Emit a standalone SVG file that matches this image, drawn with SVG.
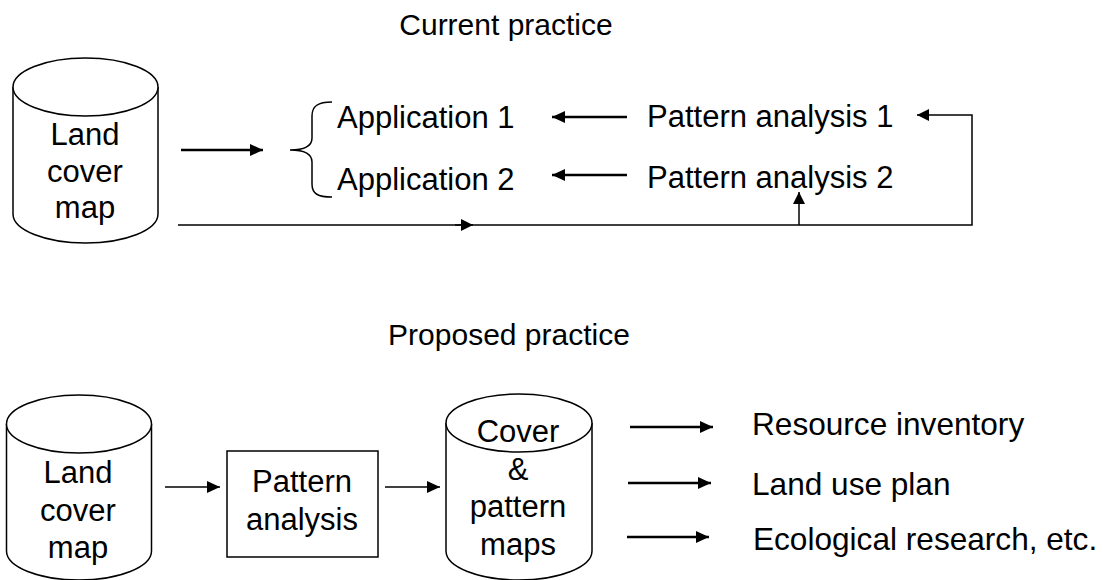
<svg xmlns="http://www.w3.org/2000/svg" width="1103" height="580" viewBox="0 0 1103 580">
<style>
text{font-family:"Liberation Sans",Arial,sans-serif;font-size:31px;fill:#000}
.mid{text-anchor:middle}
.big{font-size:31.6px}
.cyl{fill:#fff;stroke:#000;stroke-width:1.5}
.thick{stroke:#000;stroke-width:2.5;fill:none}
.thin{stroke:#000;stroke-width:1.5;fill:none}
</style>
<defs>
<marker id="ah" markerUnits="userSpaceOnUse" markerWidth="14" markerHeight="14" refX="13" refY="6" orient="auto">
<path d="M0,0 L13,6 L0,12 z" fill="#000"/>
</marker>
<marker id="ahs" markerUnits="userSpaceOnUse" markerWidth="14" markerHeight="14" refX="12" refY="6" orient="auto">
<path d="M0,0 L12,6 L0,12 z" fill="#000"/>
</marker>
</defs>
<text class="mid" x="506" y="35" style="font-size:30px">Current practice</text>
<text class="mid" x="509" y="345" style="font-size:30px">Proposed practice</text>
<g id="landcover1">
<path class="cyl" d="M13,87 L13,214 A72.5,29 0 0 0 158,214 L158,87"/>
<ellipse class="cyl" cx="85.5" cy="87" rx="72.5" ry="29"/>
<text class="mid" x="85" y="145">Land</text>
<text class="mid" x="85" y="182">cover</text>
<text class="mid" x="85" y="218">map</text>
</g>
<g id="applications">
<path class="thin" d="M332,102 C318,102 312,106 312,116 L312,138 C312,146 305,150 290,150 C305,150 312,154 312,162 L312,184 C312,194 318,197 332,197"/>
<text x="337" y="128">Application 1</text>
<text x="337" y="190">Application 2</text>
</g>
<g id="pattern1"><text x="647" y="127">Pattern analysis 1</text></g>
<g id="pattern2"><text x="647" y="188">Pattern analysis 2</text></g>
<g id="landcover2">
<path class="cyl" d="M6.5,424 L6.5,551 A72.5,29 0 0 0 151.5,551 L151.5,424"/>
<ellipse class="cyl" cx="79" cy="424" rx="72.5" ry="29"/>
<text class="mid" x="78" y="483">Land</text>
<text class="mid" x="78" y="521">cover</text>
<text class="mid" x="78" y="558">map</text>
</g>
<g id="patternbox">
<rect x="227" y="451" width="151" height="106" fill="#fff" stroke="#000" stroke-width="1.5"/>
<text class="mid" x="302" y="492">Pattern</text>
<text class="mid" x="302" y="530">analysis</text>
</g>
<g id="coverpattern">
<path class="cyl" d="M446,423 L446,551 A73,29 0 0 0 592,551 L592,423"/>
<ellipse class="cyl" cx="519" cy="423" rx="73" ry="29"/>
<text class="mid" x="518" y="442">Cover</text>
<text class="mid" x="518" y="480">&amp;</text>
<text class="mid" x="518" y="517">pattern</text>
<text class="mid" x="518" y="555">maps</text>
</g>
<g id="outputs">
<text class="big" x="752" y="435">Resource inventory</text>
<text class="big" x="752" y="495">Land use plan</text>
<text class="big" x="753" y="550">Ecological research, etc.</text>
</g>
<g id="connectors">
<path class="thick" d="M181,150 L263,150" marker-end="url(#ah)"/>
<path class="thick" d="M627,117 L552,117" marker-end="url(#ah)"/>
<path class="thick" d="M627,175 L552,175" marker-end="url(#ah)"/>
<path class="thin" d="M178,225 L972,225 L972,115 L917,115" marker-end="url(#ahs)"/>
<path class="thin" d="M455,225 L473,225" marker-end="url(#ahs)"/>
<path class="thin" d="M799,225 L799,192" marker-end="url(#ahs)"/>
<path class="thin" d="M165,487 L220,487" marker-end="url(#ah)"/>
<path class="thin" d="M385,487 L440,487" marker-end="url(#ah)"/>
<path class="thick" d="M630,427 L713,427" marker-end="url(#ah)"/>
<path class="thick" d="M628,483 L711,483" marker-end="url(#ah)"/>
<path class="thick" d="M627,537 L709,537" marker-end="url(#ah)"/>
</g>
</svg>
